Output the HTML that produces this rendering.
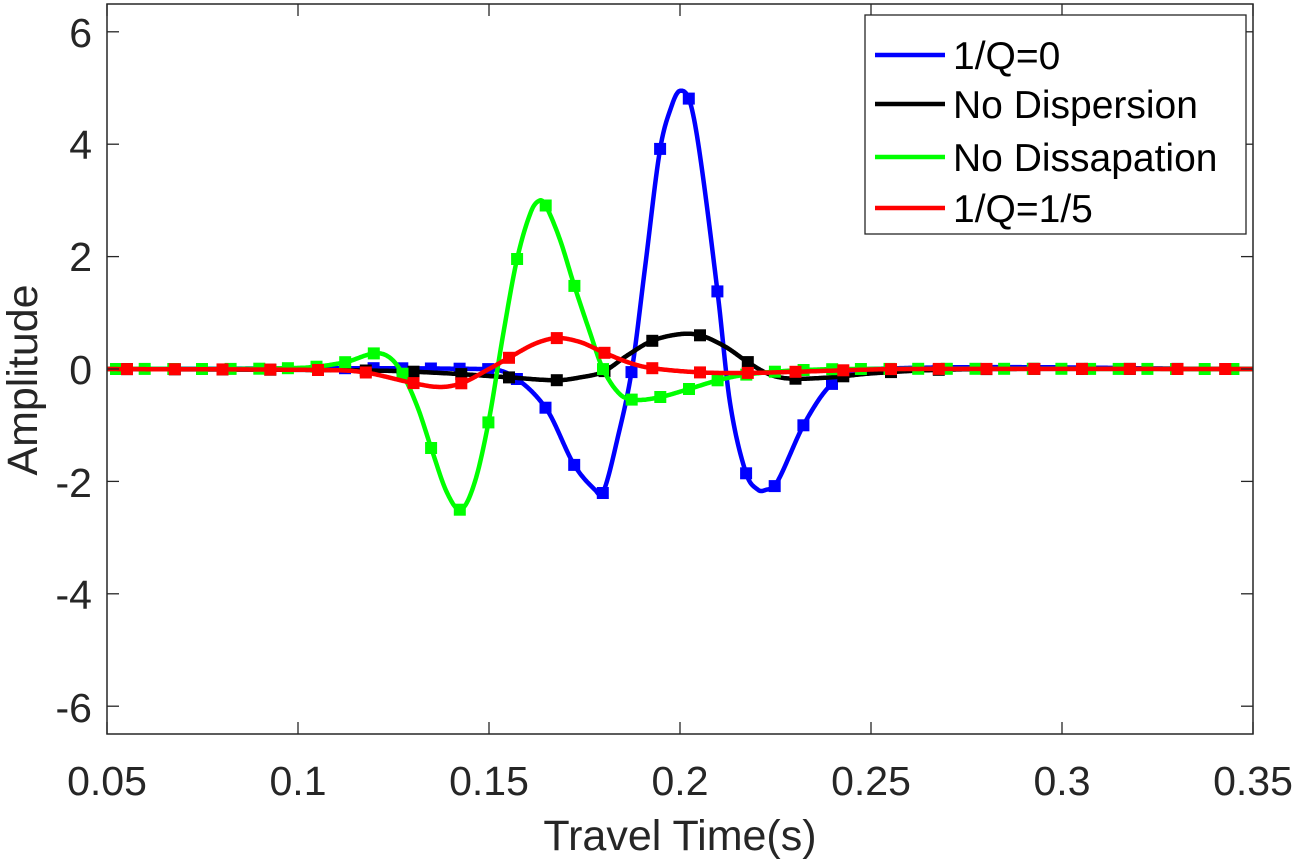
<!DOCTYPE html>
<html><head><meta charset="utf-8"><style>
body{margin:0;background:#fff}
svg{display:block;font-family:"Liberation Sans",Arial,sans-serif}
</style></head><body>
<svg id="s" width="1300" height="864" xmlns="http://www.w3.org/2000/svg">
<rect x="0" y="0" width="1300" height="864" fill="#fff"/>
<g id="plot"></g>
<rect x="107" y="4" width="1146" height="730" fill="none" stroke="#262626" stroke-width="1.5"/>
<g id="ticks" stroke="#262626" stroke-width="1.3"></g>
<g font-size="41" fill="#262626" text-anchor="middle">
<text x="107" y="795">0.05</text><text x="298" y="795">0.1</text><text x="489" y="795">0.15</text>
<text x="680" y="795">0.2</text><text x="871" y="795">0.25</text><text x="1062" y="795">0.3</text><text x="1253" y="795">0.35</text>
</g>
<g font-size="41" fill="#262626" text-anchor="end">
<text x="92" y="47">6</text><text x="92" y="159">4</text><text x="92" y="271">2</text><text x="92" y="384">0</text>
<text x="92" y="497">-2</text><text x="92" y="609">-4</text><text x="92" y="722">-6</text>
</g>
<text x="680" y="850" font-size="43" fill="#262626" text-anchor="middle">Travel Time(s)</text>
<text transform="translate(37,380) rotate(-90)" font-size="43" fill="#262626" text-anchor="middle">Amplitude</text>
<rect x="865" y="15" width="381" height="219" fill="#fff" stroke="#262626" stroke-width="1.3"/>
<g stroke-width="4.5">
<line x1="875" y1="55" x2="945" y2="55" stroke="#0000ff"/>
<line x1="875" y1="104" x2="945" y2="104" stroke="#000"/>
<line x1="875" y1="157" x2="945" y2="157" stroke="#00ff00"/>
<line x1="875" y1="208" x2="945" y2="208" stroke="#ff0000"/>
</g>
<g font-size="39" fill="#000">
<text x="953" y="69">1/Q=0</text><text x="953" y="118">No Dispersion</text>
<text x="953" y="171">No Dissapation</text><text x="953" y="222">1/Q=1/5</text>
</g>
</svg>
<script>
function X(t){return 107+(t-0.05)*3820;}
function Y(v){return 369-v*56.2;}
var tk=document.getElementById('ticks'),tks='';
[0.05,0.1,0.15,0.2,0.25,0.3,0.35].forEach(function(t){var x=X(t);tks+='<line x1="'+x+'" y1="734" x2="'+x+'" y2="722"/><line x1="'+x+'" y1="4" x2="'+x+'" y2="16"/>';});
[6,4,2,0,-2,-4,-6].forEach(function(v){var y=Y(v);tks+='<line x1="107" y1="'+y+'" x2="119" y2="'+y+'"/><line x1="1253" y1="'+y+'" x2="1241" y2="'+y+'"/>';});
tk.innerHTML=tks;
var S={
blue:{c:'#0000ff',p:[[107,0],[480,0],[510,-0.1],[546,-0.7],[574,-1.7],[595,-2.15],[603,-2.2],[618,-1.2],[632,0],[645,1.8],[660,3.9],[672,4.7],[680,4.95],[690,4.75],[700,3.8],[718,1.3],[730,-0.6],[746,-1.85],[758,-2.15],[766,-2.15],[776,-2.05],[805,-0.95],[833,-0.25],[870,0],[1253,0]],m:[345,833,28.65]},
black:{c:'#000000',p:[[107,0],[380,-0.03],[450,-0.08],[510,-0.15],[557,-0.2],[580,-0.15],[603,-0.05],[628,0.25],[652,0.5],[680,0.62],[700,0.6],[725,0.4],[748,0.12],[770,-0.1],[790,-0.17],[830,-0.15],[870,-0.08],[930,-0.02],[1000,0],[1253,0]],m:[127,1240,47.75]},
green:{c:'#00ff00',p:[[107,0],[300,0.02],[345,0.12],[375,0.28],[390,0.2],[403,-0.1],[418,-0.7],[432,-1.45],[447,-2.2],[461,-2.5],[475,-2.0],[489,-0.9],[503,0.6],[517,1.95],[531,2.8],[540,3.0],[546,2.9],[560,2.3],[574,1.5],[589,0.7],[603,0.0],[620,-0.45],[635,-0.55],[660,-0.5],[690,-0.35],[718,-0.2],[746,-0.1],[790,-0.03],[850,0],[1253,0]],m:[116,1240,28.65]},
red:{c:'#ff0000',p:[[107,0],[330,-0.02],[365,-0.06],[413,-0.25],[440,-0.32],[462,-0.25],[489,0],[509,0.2],[535,0.45],[557,0.55],[580,0.48],[603,0.3],[628,0.12],[650,0.02],[700,-0.06],[747,-0.07],[795,-0.05],[850,-0.02],[900,0],[1253,0]],m:[127,1240,47.75]}
};
function interp(p,x){for(var i=0;i<p.length-1;i++){if(x>=p[i][0]&&x<=p[i+1][0]){var p0=p[Math.max(i-1,0)],p1=p[i],p2=p[i+1],p3=p[Math.min(i+2,p.length-1)];var t=(x-p1[0])/(p2[0]-p1[0]);
var m1=(p2[1]-p0[1])/(p2[0]-p0[0])*(p2[0]-p1[0]);var m2=(p3[1]-p1[1])/(p3[0]-p1[0])*(p2[0]-p1[0]);
var t2=t*t,t3=t2*t;return (2*t3-3*t2+1)*p1[1]+(t3-2*t2+t)*m1+(-2*t3+3*t2)*p2[1]+(t3-t2)*m2;}}return 0;}
var g=document.getElementById('plot'),h='';
['blue','black','green','red'].forEach(function(k){var s=S[k],d='';
for(var x=107;x<=1253;x+=1){d+=(x==107?'M':'L')+x+' '+Y(interp(s.p,x)).toFixed(1);}
h+='<path d="'+d+'" fill="none" stroke="'+s.c+'" stroke-width="4.5" stroke-linejoin="round"/>';
for(var x=s.m[0];x<=s.m[1]+1;x+=s.m[2]){var y=Y(interp(s.p,x));h+='<rect x="'+(x-6).toFixed(1)+'" y="'+(y-6).toFixed(1)+'" width="12" height="12" fill="'+s.c+'"/>';}
});
g.innerHTML=h;
</script>
</body></html>
